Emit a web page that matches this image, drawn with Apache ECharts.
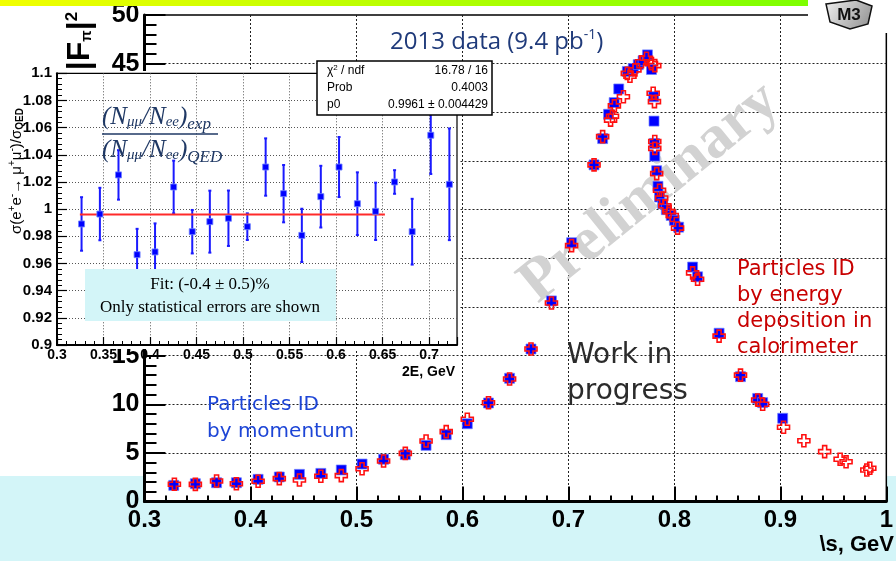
<!DOCTYPE html>
<html>
<head>
<meta charset="utf-8">
<script src="https://cdn.jsdelivr.net/npm/echarts@6/dist/echarts.min.js"></script>
<style>
html, body { margin: 0; padding: 0; background: #fff; }
#chart { width: 896px; height: 561px; }
</style>
</head>
<body>
<div id="chart"></div>
<script>
// |F_pi|^2 versus sqrt(s), particle ID by momentum (blue squares)
const momSqrtS = [0.3276, 0.348, 0.368, 0.3867, 0.4072, 0.4272, 0.4462, 0.4664, 0.4857, 0.5053,
  0.5256, 0.5461, 0.5657, 0.5847, 0.6046, 0.6246, 0.6445, 0.6647, 0.684, 0.703,
  0.7242, 0.7323, 0.7379, 0.7432, 0.7475, 0.7556, 0.7612, 0.7659, 0.7705, 0.7746,
  0.7784, 0.7805, 0.7808, 0.7812, 0.7815, 0.7833, 0.7845, 0.786, 0.789, 0.7924,
  0.797, 0.8, 0.804, 0.8172, 0.8219, 0.8422, 0.8624, 0.8786, 0.8833, 0.9022];
const momFF2 = [1.67, 1.84, 1.94, 1.94, 2.29, 2.53, 2.8, 2.9, 3.25, 3.86,
  4.35, 4.83, 5.78, 6.88, 8.0, 10.13, 12.67, 15.68, 20.62, 26.6,
  34.6, 37.3, 39.8, 41.0, 42.4, 44.2, 44.5, 44.9, 45.3, 45.9,
  44.4, 41.6, 39.1, 36.8, 35.5, 34.0, 32.4, 31.3, 30.6, 30.0,
  29.4, 28.9, 28.2, 24.1, 23.1, 17.3, 12.84, 10.6, 10.17, 8.56];

// |F_pi|^2 versus sqrt(s), particle ID by energy deposition (red crosses)
const calSqrtS = [0.3282, 0.348, 0.368, 0.3867, 0.4072, 0.4272, 0.4462, 0.4664, 0.4857, 0.5053,
  0.5256, 0.5461, 0.5657, 0.5847, 0.6046, 0.6246, 0.6445, 0.6647, 0.684, 0.703,
  0.7242, 0.7323, 0.7398, 0.7416, 0.7434, 0.7519, 0.7556, 0.7581, 0.7628, 0.769,
  0.7737, 0.7784, 0.7815, 0.78, 0.7812, 0.7815, 0.7815, 0.7833, 0.786, 0.788,
  0.791, 0.795, 0.798, 0.803, 0.8172, 0.8219, 0.8422, 0.8624, 0.8786, 0.8833,
  0.903, 0.9222, 0.9418, 0.9564, 0.962, 0.9816, 0.9844];
const calFF2 = [1.78, 1.77, 2.12, 1.84, 2.09, 2.36, 2.22, 2.6, 2.67, 3.38,
  4.17, 4.96, 6.23, 7.19, 8.46, 10.16, 12.6, 15.68, 20.4, 26.3,
  34.6, 37.5, 39.2, 39.6, 40.66, 41.6, 44.0, 43.7, 44.36, 45.2,
  45.55, 45.0, 44.8, 41.96, 41.1, 37.0, 36.3, 33.7, 32.0, 31.2,
  30.4, 29.8, 29.4, 28.1, 23.5, 22.85, 17.0, 13.0, 10.44, 10.0,
  7.64, 6.26, 5.13, 4.35, 4.1, 3.25, 3.42];

// Inset: sigma(ee->mumu)/sigma_QED versus 2E, statistical errors only
const ratio2E = [0.3264, 0.3461, 0.3661, 0.3861, 0.4054, 0.4254, 0.4454, 0.4643, 0.4843, 0.5046,
  0.5243, 0.5436, 0.5632, 0.5836, 0.6032, 0.6229, 0.6425, 0.6629, 0.6818, 0.7018, 0.7218];
const ratioVal = [0.9891, 0.9964, 1.0252, 0.9665, 0.9685, 1.0163, 0.9834, 0.9908, 0.9933, 0.9871,
  1.031, 1.0114, 0.9807, 1.0092, 1.031, 1.004, 0.9984, 1.02, 0.9834, 1.0544, 1.0183];
const ratioErr = [0.0197, 0.0193, 0.0182, 0.019, 0.021, 0.0194, 0.016, 0.0228, 0.0204, 0.0098,
  0.0211, 0.0211, 0.0196, 0.0227, 0.0221, 0.0231, 0.0211, 0.0087, 0.0242, 0.0285, 0.0411];
const fitP0 = 0.9961;
const fitRange = [0.3246, 0.6525];

// Axis ranges and tick steps
const mainX = { min: 0.3, max: 1.0, step: 0.1 };
const mainY = { min: 0, max: 50, step: 5 };
const insetX = { min: 0.3, max: 0.73, step: 0.05 };
const insetY = { min: 0.9, max: 1.1, step: 0.02 };

// Fit statistics box rows
const statRows = [
  ['{t|\u03c7}{sp|2}{t| / ndf}', '16.78 / 16'],
  ['Prob', '0.4003'],
  ['p0', '0.9961 \u00b1 0.004429']
];

const crossPath = 'path://M4,0L8,0L8,4L12,4L12,8L8,8L8,12L4,12L4,8L0,8L0,4L4,4Z';
const BOLD = '"Liberation Sans", Arial, sans-serif';
const HAND = '"DejaVu Sans", sans-serif';
const dotted = { type: [2, 2], color: '#222', width: 1 };

const chart = echarts.init(document.getElementById('chart'), null, { renderer: 'canvas' });

function pairs(xs, ys) { return xs.map((x, i) => [x, ys[i]]); }

const formulaRich = {
  a: { font: 'italic 25px "Liberation Serif"', fill: '#1f3864' },
  s: { font: 'italic 15px "Liberation Serif"', fill: '#1f3864', padding: [10, 0, 0, 0] },
  t: { font: 'italic 17px "Liberation Serif"', fill: '#1f3864', padding: [16, 0, 0, 0] }
};

const option = {
  animation: false,
  backgroundColor: new echarts.graphic.LinearGradient(0, 0, 0, 1, [
    { offset: 0, color: '#ffffff' },
    { offset: 0.848, color: '#ffffff' },
    { offset: 0.848, color: '#d3f5f8' },
    { offset: 1, color: '#d3f5f8' }
  ]),
  grid: [
    { left: 144.5, top: 15, width: 748.5, height: 486.6, show: true, backgroundColor: '#fff',
      borderColor: '#000', borderWidth: 1.5, zlevel: 0, z: 0 },
    { left: 57, top: 73.3, width: 400, height: 271.7, show: true, backgroundColor: '#fff',
      borderColor: '#000', borderWidth: 1.2, zlevel: 1, z: 2 }
  ],
  xAxis: [
    { type: 'value', gridIndex: 0, min: mainX.min, max: mainX.max, interval: mainX.step,
      zlevel: 0,
      axisLine: { show: true, onZero: false, lineStyle: { color: '#000', width: 3 } },
      axisTick: { show: true, inside: true, length: 15, lineStyle: { color: '#000', width: 2 } },
      minorTick: { show: true, splitNumber: 5, length: 6, lineStyle: { color: '#000', width: 2 } },
      axisLabel: { margin: 7, color: '#000', fontFamily: BOLD, fontWeight: 'bold', fontSize: 24 },
      splitLine: { show: true, showMinLine: false, showMaxLine: false, lineStyle: dotted }
    },
    { type: 'value', gridIndex: 1, min: insetX.min, max: insetX.max, interval: insetX.step,
      zlevel: 1, z: 3,
      axisLine: { show: true, onZero: false, lineStyle: { color: '#000', width: 2 } },
      axisTick: { show: true, inside: true, length: 8, lineStyle: { color: '#000', width: 1.2 } },
      minorTick: { show: true, splitNumber: 5, length: 4, lineStyle: { color: '#000', width: 1 } },
      axisLabel: { margin: 3, color: '#000', fontFamily: BOLD, fontWeight: 'bold', fontSize: 14,
        showMaxLabel: false },
      splitLine: { show: true, showMinLine: false, showMaxLine: false,
        lineStyle: { type: [1, 2], color: '#555', width: 1 } }
    }
  ],
  yAxis: [
    { type: 'value', gridIndex: 0, min: mainY.min, max: mainY.max, interval: mainY.step,
      zlevel: 0,
      axisLine: { show: true, onZero: false, lineStyle: { color: '#000', width: 3 } },
      axisTick: { show: true, inside: true, length: 21, lineStyle: { color: '#000', width: 2 } },
      minorTick: { show: true, splitNumber: 5, length: 12, lineStyle: { color: '#000', width: 2 } },
      axisLabel: { margin: 5, color: '#000', fontFamily: BOLD, fontWeight: 'bold', fontSize: 25 },
      splitLine: { show: true, showMinLine: false, showMaxLine: false, lineStyle: dotted }
    },
    { type: 'value', gridIndex: 1, min: insetY.min, max: insetY.max, interval: insetY.step,
      zlevel: 1, z: 3,
      axisLine: { show: true, onZero: false, lineStyle: { color: '#000', width: 2 } },
      axisTick: { show: true, inside: true, length: 10, lineStyle: { color: '#000', width: 1.2 } },
      minorTick: { show: true, splitNumber: 5, length: 5, lineStyle: { color: '#000', width: 1 } },
      axisLabel: { margin: 5, color: '#000', fontFamily: BOLD, fontWeight: 'bold', fontSize: 15 },
      splitLine: { show: true, showMinLine: false, showMaxLine: false,
        lineStyle: { type: [1, 2], color: '#555', width: 1 } }
    }
  ],
  series: [
    { name: 'momentum', type: 'scatter', xAxisIndex: 0, yAxisIndex: 0, zlevel: 0, z: 3,
      data: pairs(momSqrtS, momFF2), symbol: 'rect', symbolSize: 10,
      itemStyle: { color: '#0000ff', borderColor: 'rgba(110,130,255,0.7)', borderWidth: 1, opacity: 1 },
      emphasis: { disabled: true } },
    { name: 'calorimeter', type: 'scatter', xAxisIndex: 0, yAxisIndex: 0, zlevel: 0, z: 4,
      data: pairs(calSqrtS, calFF2), symbol: crossPath, symbolSize: 12,
      itemStyle: { color: 'rgba(0,0,0,0)', borderColor: '#ff1010', borderWidth: 1.6, opacity: 1 },
      emphasis: { disabled: true } },
    { name: 'ratio errors', type: 'custom', xAxisIndex: 1, yAxisIndex: 1, zlevel: 1, z: 4,
      data: ratio2E.map((x, i) => [x, ratioVal[i], ratioErr[i]]),
      renderItem: function (params, api) {
        const x = api.value(0), y = api.value(1), e = api.value(2);
        const top = api.coord([x, y + e]);
        const bot = api.coord([x, y - e]);
        const st = { stroke: '#1a1aff', lineWidth: 2 };
        return { type: 'group', children: [
          { type: 'line', shape: { x1: top[0], y1: top[1], x2: bot[0], y2: bot[1] }, style: st },
          { type: 'line', shape: { x1: top[0] - 1.5, y1: top[1], x2: top[0] + 1.5, y2: top[1] }, style: st },
          { type: 'line', shape: { x1: bot[0] - 1.5, y1: bot[1], x2: bot[0] + 1.5, y2: bot[1] }, style: st }
        ] };
      } },
    { name: 'ratio', type: 'scatter', xAxisIndex: 1, yAxisIndex: 1, zlevel: 1, z: 5,
      data: pairs(ratio2E, ratioVal), symbol: 'rect', symbolSize: 6,
      itemStyle: { color: '#0000ff', borderColor: 'rgba(110,130,255,0.8)', borderWidth: 1, opacity: 1 },
      emphasis: { disabled: true } },
    { name: 'fit', type: 'line', xAxisIndex: 1, yAxisIndex: 1, zlevel: 1, z: 5,
      data: [[fitRange[0], fitP0], [fitRange[1], fitP0]], symbol: 'none',
      lineStyle: { color: '#ff2a2a', width: 2 }, emphasis: { disabled: true } }
  ],
  graphic: [
    // header colour bar
    { type: 'rect', zlevel: 1, z: 20, shape: { x: 0, y: 0, width: 808, height: 6 },
      style: { fill: new echarts.graphic.LinearGradient(0, 0, 1, 0, [
        { offset: 0, color: '#f2ff00' }, { offset: 1, color: '#7dff00' }]) } },
    // logo corner
    { type: 'rect', zlevel: 1, z: 20, shape: { x: 808, y: 0, width: 88, height: 33 }, style: { fill: '#fff' } },
    { type: 'polygon', zlevel: 1, z: 21, shape: { points: [[826, 4], [856, 0], [872, 6], [868, 24], [850, 29], [830, 22]] },
      style: { fill: new echarts.graphic.LinearGradient(0, 0, 1, 1, [
        { offset: 0, color: '#f2f2f2' }, { offset: 1, color: '#8c8c8c' }]), stroke: '#111', lineWidth: 1.5 } },
    { type: 'text', zlevel: 1, z: 22, x: 849, y: 15,
      style: { text: 'M3', font: 'bold 17px "Liberation Sans"', fill: '#111', align: 'center', verticalAlign: 'middle' } },

    // white pad behind the inset
    { type: 'rect', zlevel: 1, z: 0, shape: { x: 0, y: 71, width: 460, height: 278 }, style: { fill: '#fff' } },

    // main y-axis title |F_pi|^2
    { type: 'text', zlevel: 0, z: 6, x: 80, y: 41, rotation: Math.PI / 2,
      style: { text: '{b||F}{s|\u03c0}{b||}{p|2}', align: 'center', verticalAlign: 'middle',
        rich: {
          b: { font: 'bold 32px "Liberation Sans"', fill: '#000' },
          s: { font: 'bold 15px "Liberation Sans"', fill: '#000', padding: [14, 0, 0, 0] },
          p: { font: 'bold 17px "Liberation Sans"', fill: '#000', padding: [0, 0, 16, 0] }
        } } },
    // main x-axis title
    { type: 'text', zlevel: 0, z: 6, x: 894, y: 545,
      style: { text: '\\s, GeV', font: 'bold 22px "Liberation Sans"', fill: '#000', align: 'right', verticalAlign: 'middle' } },

    // title
    { type: 'text', zlevel: 0, z: 6, x: 390, y: 42,
      style: { text: '{a|2013 data (9.4 pb}{s|-1}{a|)}', verticalAlign: 'middle',
        rich: {
          a: { font: '24px "Open Sans"', fill: '#1f3a7a' },
          s: { font: '14px "Open Sans"', fill: '#1f3a7a', padding: [0, 0, 13, 0] }
        } } },

    // watermark
    { type: 'text', zlevel: 0, z: 1, x: 650, y: 193, rotation: 0.68,
      style: { text: 'Preliminary', font: 'bold 61px "Liberation Serif"', fill: '#d2d2d2',
        align: 'center', verticalAlign: 'middle' } },

    // annotations
    { type: 'text', zlevel: 0, z: 6, x: 567, y: 374,
      style: { text: 'Work in\nprogress', font: '28px ' + HAND, fill: '#2b2b2b', lineHeight: 36,
        verticalAlign: 'middle' } },
    { type: 'text', zlevel: 0, z: 6, x: 737, y: 309,
      style: { text: 'Particles ID\nby energy\ndeposition in\ncalorimeter', font: '21px ' + HAND,
        fill: '#c80000', lineHeight: 26, verticalAlign: 'middle' } },
    { type: 'text', zlevel: 0, z: 6, x: 207, y: 418,
      style: { text: 'Particles ID\nby momentum', font: '20px ' + HAND,
        fill: '#1d45d6', lineHeight: 27, verticalAlign: 'middle' } },

    // inset titles
    { type: 'text', zlevel: 1, z: 12, x: 455, y: 372,
      style: { text: '2E, GeV', font: 'bold 14px "Liberation Sans"', fill: '#000', align: 'right', verticalAlign: 'middle' } },
    { type: 'text', zlevel: 1, z: 12, x: 17, y: 171, rotation: Math.PI / 2,
      style: { text: '{a|\u03c3(e}{p|+}{a|e}{p|-}{a|\u2192 \u03bc}{p|+}{a|\u03bc}{p|-}{a|)/\u03c3}{s|QED}',
        align: 'center', verticalAlign: 'middle',
        rich: {
          a: { font: '15px "Liberation Sans"', fill: '#000' },
          p: { font: '10px "Liberation Sans"', fill: '#000', padding: [0, 0, 9, 0] },
          s: { font: 'bold 10px "Liberation Sans"', fill: '#000', padding: [7, 0, 0, 0] }
        } } },

    // ratio formula
    { type: 'text', zlevel: 1, z: 12, x: 102, y: 117,
      style: { text: '{a|(N}{s|\u03bc\u03bc}{a|/N}{s|ee}{a|)}{t|exp}', verticalAlign: 'middle', rich: formulaRich } },
    { type: 'line', zlevel: 1, z: 12, shape: { x1: 102, y1: 134, x2: 218, y2: 134 },
      style: { stroke: '#1f3864', lineWidth: 1.3 } },
    { type: 'text', zlevel: 1, z: 12, x: 102, y: 150,
      style: { text: '{a|(N}{s|\u03bc\u03bc}{a|/N}{s|ee}{a|)}{t|QED}', verticalAlign: 'middle', rich: formulaRich } },

    // fit result box
    { type: 'rect', zlevel: 1, z: 10, shape: { x: 85, y: 269, width: 251, height: 52 }, style: { fill: '#d3f5f8' } },
    { type: 'text', zlevel: 1, z: 11, x: 210, y: 285,
      style: { text: 'Fit: (-0.4 \u00b1 0.5)%', font: '17px "Liberation Serif"', fill: '#000', align: 'center', verticalAlign: 'middle' } },
    { type: 'text', zlevel: 1, z: 11, x: 210, y: 308,
      style: { text: 'Only statistical errors are shown', font: '17px "Liberation Serif"', fill: '#000', align: 'center', verticalAlign: 'middle' } },

    // fit statistics box
    { type: 'rect', zlevel: 1, z: 10, shape: { x: 317, y: 61, width: 175, height: 54 },
      style: { fill: '#fff', stroke: '#000', lineWidth: 1.5 } }
  ].concat(statRows.flatMap((row, i) => [
    { type: 'text', zlevel: 1, z: 11, x: 327, y: 71 + i * 17,
      style: { text: i === 0 ? row[0] : '{t|' + row[0] + '}', verticalAlign: 'middle',
        rich: {
          t: { font: '12px "Liberation Sans"', fill: '#000' },
          sp: { font: '8px "Liberation Sans"', fill: '#000', padding: [0, 0, 7, 0] }
        } } },
    { type: 'text', zlevel: 1, z: 11, x: 488, y: 71 + i * 17,
      style: { text: row[1], font: '12px "Liberation Sans"', fill: '#000', align: 'right', verticalAlign: 'middle' } }
  ]))
};

chart.setOption(option);
</script>
</body>
</html>
